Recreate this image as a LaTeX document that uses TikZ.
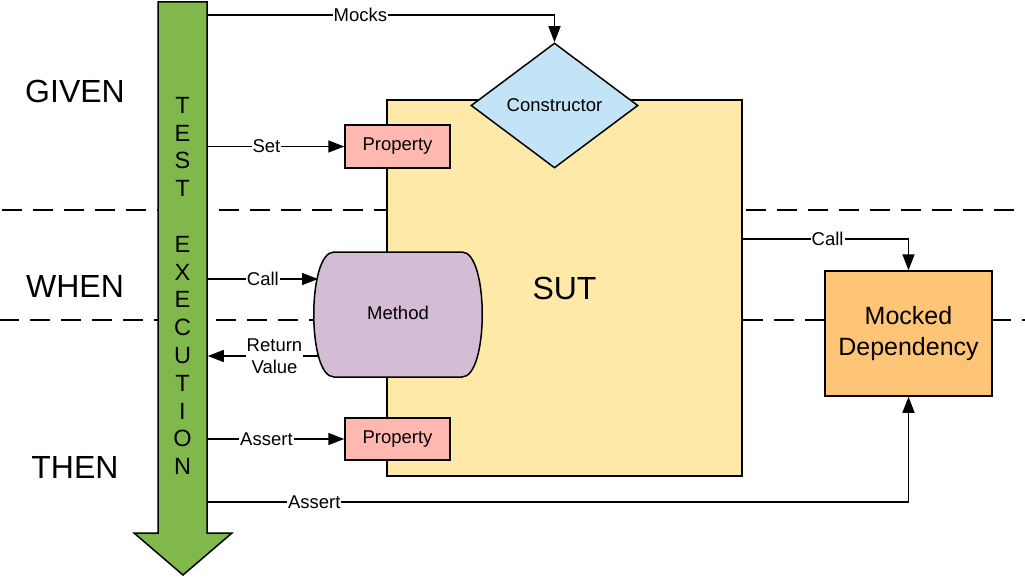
\documentclass[tikz,border=0pt]{standalone}
\usepackage{fontspec}
\setmainfont{Liberation Sans}
\usetikzlibrary{shapes.geometric, arrows.meta}

\definecolor{execgreen}{HTML}{80B84C}
\definecolor{sutyellow}{HTML}{FFE9A8}
\definecolor{ctorblue}{HTML}{C3E4F6}
\definecolor{propred}{HTML}{FFB8B0}
\definecolor{methodpurple}{HTML}{D4BCD4}
\definecolor{mockorange}{HTML}{FFC577}

\begin{document}
\begin{tikzpicture}[x=1pt, y=-1pt, line width=1.5pt,
  box/.style={draw, line width=1.5pt, inner sep=0pt, font=\fontsize{18.5}{22}\selectfont},
  conn/.style={-{Triangle[length=16pt,width=12pt]}},
  lbl/.style={fill=white, inner sep=1pt, font=\fontsize{18.5}{22}\selectfont},
  phase/.style={font=\fontsize{32}{38}\selectfont}]
\useasboundingbox (0,0) rectangle (1025,578);

% phase separators
\draw[dash pattern=on 20pt off 11pt, dash phase=29pt] (0,210)--(1025,210);
\draw[dash pattern=on 20pt off 11pt, dash phase=1pt] (0,320)--(1025,320);
\node[phase] (given) at (75,91) {GIVEN};
\node[phase] (when) at (75,286) {WHEN};
\node[phase] (then) at (75,467) {THEN};

% system under test
\node[box, fill=sutyellow, minimum width=355pt, minimum height=376pt,
  font=\fontsize{32}{38}\selectfont] (sut) at (564.5,288) {SUT};
\node[box, diamond, fill=ctorblue, aspect=1.34, minimum width=167pt,
  minimum height=125pt] (ctor) at (554.5,105.5) {Constructor};
\node[box, fill=propred, minimum width=105pt, minimum height=43pt] (prop1) at (397.5,146.5) {Property};
\node[box, fill=propred, minimum width=105pt, minimum height=42pt] (prop2) at (397.5,439) {Property};
\draw[fill=methodpurple] (334,252)--(462,252)
  .. controls (489,252) and (489,377) .. (462,377)--(334,377)
  .. controls (307,377) and (307,252) .. (334,252)--cycle;
\node[font=\fontsize{18.5}{22}\selectfont] (method) at (398,313) {Method};
\coordinate (callin) at (318,279);
\coordinate (retout) at (319,356);

% mocked dependency
\node[box, fill=mockorange, minimum width=167pt, minimum height=125pt, align=center,
  font=\fontsize{25}{31}\selectfont] (mock) at (908.5,333.5) {Mocked\\Dependency};

% test execution arrow
\draw[fill=execgreen] (158,2)--(207,2)--(207,533)--(232,533)--(183,575)
  --(134,533)--(158,533)--cycle;
\node[minimum width=49pt, inner sep=0pt, align=center,
  font=\fontsize{23.5}{27.8}\selectfont] (exec) at (182.5,286)
  {T\\E\\S\\T\\[27.8pt]E\\X\\E\\C\\U\\T\\I\\O\\N};

% connectors
\draw[conn] (exec.east |- 0,15) -| node[lbl, pos=0.22] {Mocks} (ctor.north);
\draw[conn] (exec.east |- prop1.west) -- node[lbl, pos=0.43] {Set} (prop1.west);
\draw[conn] (exec.east |- callin) -- node[lbl, pos=0.5] {Call} (callin);
\draw[conn] (retout) -- node[lbl, align=center, pos=0.4] {Return\\Value} (exec.east |- retout);
\draw[conn] (exec.east |- prop2.west) -- node[lbl, pos=0.43] {Assert} (prop2.west);
\draw[conn] (exec.east |- 0,502) -| node[lbl, pos=0.076] {Assert} (mock.south);
\draw[conn] (sut.east |- 0,239) -| node[lbl, pos=0.256] {Call} (mock.north);
\end{tikzpicture}
\end{document}
